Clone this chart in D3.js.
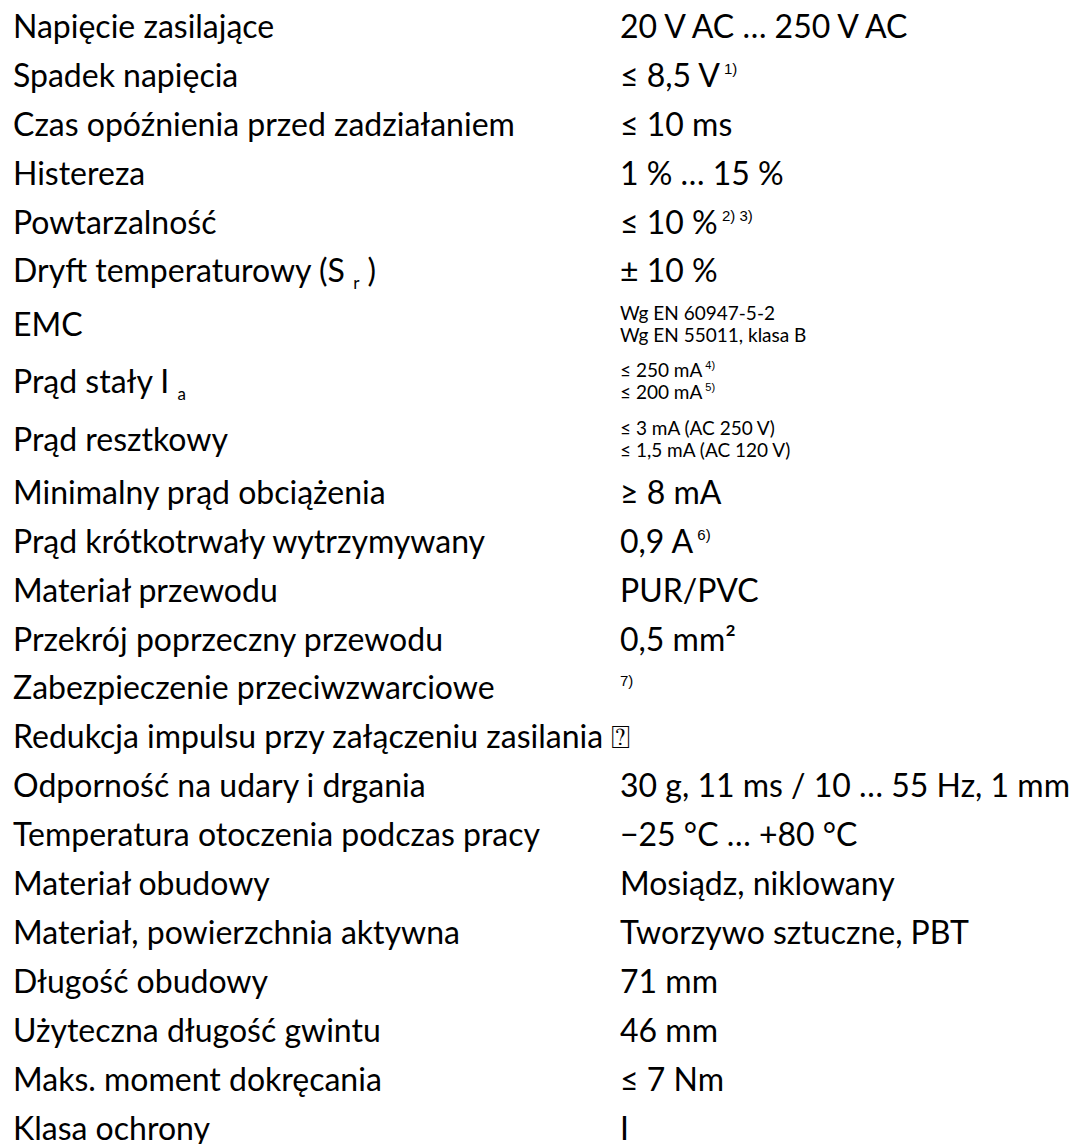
<!DOCTYPE html>
<html><head><meta charset="utf-8">
<script src="https://cdn.jsdelivr.net/npm/d3@7"></script>
<style>html,body{margin:0;padding:0;background:#fff;}svg{display:block;}</style>
</head><body>
<script>
const labels = ["Napięcie zasilające","Spadek napięcia","Czas opóźnienia przed zadziałaniem","Histereza","Powtarzalność","Dryft temperaturowy (S","EMC","Prąd stały I","Prąd resztkowy","Minimalny prąd obciążenia","Prąd krótkotrwały wytrzymywany","Materiał przewodu","Przekrój poprzeczny przewodu","Zabezpieczenie przeciwzwarciowe","Redukcja impulsu przy załączeniu zasilania","Odporność na udary i drgania","Temperatura otoczenia podczas pracy","Materiał obudowy","Materiał, powierzchnia aktywna","Długość obudowy","Użyteczna długość gwintu","Maks. moment dokręcania","Klasa ochrony"];
const labelSubs = [null,null,null,null,null,"r",null,"a",null,null,null,null,null,null,null,null,null,null,null,null,null,null,null];
const labelTails = [null,null,null,null,null," )",null,null,null,null,null,null,null,null," ⍰",null,null,null,null,null,null,null,null];
const values = ["20 V AC … 250 V AC","≤ 8,5 V","≤ 10 ms","1 % … 15 %","≤ 10 %","± 10 %",null,null,null,"≥ 8 mA","0,9 A","PUR/PVC","0,5 mm²","",null,"30 g, 11 ms / 10 … 55 Hz, 1 mm","−25 °C … +80 °C","Mosiądz, niklowany","Tworzywo sztuczne, PBT","71 mm","46 mm","≤ 7 Nm","I"];
const valueNotes = [null,"1)",null,null,"2) 3)",null,null,null,null,null,"6)",null,null,"7)",null,null,null,null,null,null,null,null,null];
const smallLines = {6:["Wg EN 60947-5-2","Wg EN 55011, klasa B"],7:["≤ 250 mA","≤ 200 mA"],8:["≤ 3 mA (AC 250 V)","≤ 1,5 mA (AC 120 V)"]};
const smallNotes = {7:["4)","5)"]};

const W=1072,H=1144;
const svg=d3.select("body").append("svg").attr("width",W).attr("height",H);
// row heights: single-line rows vs two-line small-text rows
const rowH = labels.map((d,i)=> smallLines[i] ? 57.5 : 48.9);
const tops = [0, ...d3.cumsum(rowH)].map(v=>v+2.5);
const center = i => tops[i] + rowH[i]/2;
const xL=13,xR=620;
const F="Lato, 'Open Sans', sans-serif";
const NF="'Liberation Sans', Arial, sans-serif";
const g=svg.append("g").attr("font-family",F).attr("fill","#000");

labels.forEach((lab,i)=>{
  const yb = center(i)+11;
  const t=g.append("text").attr("x",xL).attr("y",yb).attr("font-size",32);
  t.append("tspan").text(lab);
  if(labelSubs[i]){
    t.append("tspan").text(" ");
    t.append("tspan").attr("font-size",17).attr("dy",7).text(labelSubs[i]);
    if(labelTails[i]) t.append("tspan").attr("dy",-7).text(labelTails[i]);
  } else if(labelTails[i]){
    t.append("tspan").text(labelTails[i]);
  }
  if(values[i]!==null){
    const v=g.append("text").attr("x",xR).attr("y",yb).attr("font-size",32);
    v.append("tspan").text(values[i]);
    if(valueNotes[i]){
      v.append("tspan").attr("font-family",NF).attr("font-size",15)
        .attr("dy",-13).text((values[i]?" ":"")+valueNotes[i]);
    }
  }
  if(smallLines[i]){
    smallLines[i].forEach((ln,k)=>{
      const v=g.append("text").attr("x",xR).attr("y",center(i)-5+k*22).attr("font-size",19);
      v.append("tspan").text(ln);
      if(smallNotes[i]) v.append("tspan").attr("font-family",NF).attr("font-size",11).attr("dy",-8).text(" "+smallNotes[i][k]);
    });
  }
});
</script>
</body></html>
